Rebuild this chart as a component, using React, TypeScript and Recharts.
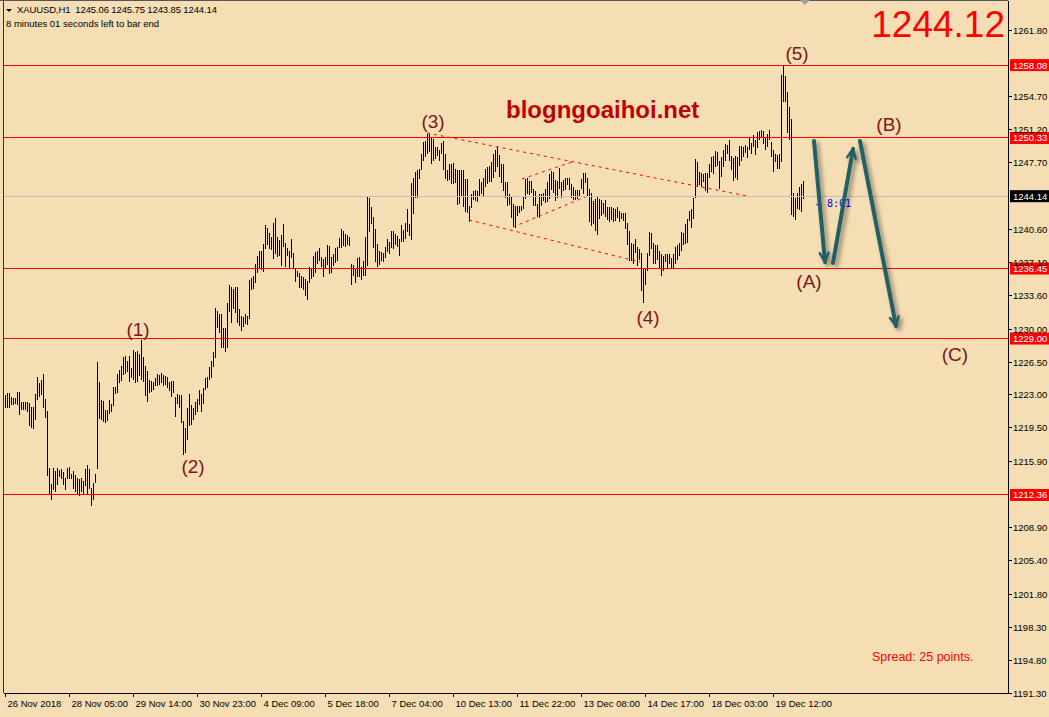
import { ComposedChart, Bar, XAxis, YAxis, ReferenceLine } from 'recharts'

// hourly highs / lows (XAUUSD H1, 26 Nov - 19 Dec 2018)
const highs = [
  1223.0, 1223.2, 1223.2, 1222.8, 1222.7, 1222.7, 1223.3, 1223.3, 1222.3, 1222.3,
  1222.2, 1222.3, 1222.1, 1221.7, 1221.7, 1223.1, 1224.9, 1224.3, 1224.6, 1225.2,
  1222.6, 1221.3, 1215.2, 1213.5, 1215.2, 1214.9, 1215.2, 1215.0, 1215.1, 1214.8,
  1214.2, 1215.2, 1215.3, 1214.6, 1214.9, 1214.5, 1214.2, 1214.1, 1214.2, 1213.8,
  1215.1, 1215.5, 1215.1, 1213.1, 1213.6, 1214.6, 1226.5, 1224.4, 1222.5, 1222.4,
  1221.4, 1221.4, 1222.5, 1222.0, 1223.8, 1223.8, 1225.2, 1225.7, 1226.1, 1227.0,
  1227.1, 1226.6, 1227.1, 1225.9, 1227.8, 1227.6, 1227.7, 1227.4, 1228.8, 1227.0,
  1226.1, 1225.6, 1224.6, 1224.5, 1224.4, 1224.8, 1225.2, 1225.1, 1225.3, 1225.1,
  1225.0, 1224.9, 1224.4, 1224.5, 1224.5, 1222.8, 1223.1, 1223.0, 1223.0, 1220.2,
  1219.5, 1221.6, 1223.1, 1221.9, 1221.6, 1222.3, 1222.6, 1223.5, 1223.1, 1223.7,
  1224.8, 1224.9, 1226.0, 1226.6, 1227.6, 1232.3, 1231.9, 1231.6, 1231.6, 1230.1,
  1230.1, 1232.8, 1234.7, 1234.5, 1234.3, 1234.5, 1234.5, 1232.1, 1231.4, 1231.3,
  1231.6, 1231.4, 1235.2, 1235.4, 1235.7, 1236.9, 1237.8, 1238.3, 1238.3, 1239.1,
  1241.1, 1240.8, 1240.2, 1239.8, 1241.3, 1241.8, 1239.8, 1239.5, 1240.0, 1241.2,
  1239.2, 1238.6, 1238.3, 1239.6, 1238.1, 1236.4, 1236.2, 1236.0, 1235.6, 1235.5,
  1235.3, 1235.1, 1236.6, 1236.4, 1237.8, 1238.2, 1238.3, 1238.6, 1237.7, 1237.5,
  1237.7, 1239.0, 1238.8, 1237.7, 1238.0, 1238.6, 1238.7, 1239.7, 1240.7, 1240.4,
  1240.1, 1240.0, 1239.8, 1236.9, 1236.8, 1236.5, 1237.6, 1237.7, 1236.6, 1237.2,
  1239.8, 1244.2, 1244.0, 1243.0, 1241.9, 1240.6, 1239.1, 1238.3, 1238.2, 1238.1,
  1238.7, 1239.6, 1239.3, 1240.4, 1240.4, 1240.1, 1239.9, 1239.6, 1241.1, 1240.5,
  1241.3, 1242.8, 1241.2, 1245.5, 1246.1, 1246.7, 1246.9, 1247.0, 1248.6, 1249.9,
  1250.0, 1250.8, 1250.8, 1250.3, 1250.2, 1249.4, 1249.4, 1249.0, 1249.8, 1250.0,
  1248.6, 1246.9, 1247.6, 1247.6, 1247.7, 1247.0, 1246.9, 1246.9, 1246.9, 1246.9,
  1246.0, 1246.0, 1243.1, 1244.4, 1244.7, 1244.8, 1244.7, 1246.0, 1245.7, 1246.1,
  1247.0, 1247.2, 1247.3, 1247.8, 1248.6, 1249.0, 1249.4, 1248.5, 1247.6, 1247.6,
  1245.6, 1245.6, 1244.4, 1244.2, 1243.3, 1243.1, 1243.1, 1243.1, 1243.1, 1244.2,
  1246.0, 1246.1, 1245.8, 1245.8, 1244.9, 1244.7, 1243.3, 1244.4, 1244.4, 1244.5,
  1244.9, 1245.6, 1246.5, 1246.8, 1246.7, 1245.9, 1245.8, 1247.1, 1245.7, 1245.9,
  1246.1, 1246.1, 1246.1, 1245.4, 1245.1, 1244.8, 1244.8, 1244.8, 1246.0, 1246.6,
  1246.6, 1246.1, 1244.9, 1244.5, 1243.6, 1243.8, 1244.1, 1243.8, 1243.7, 1243.4,
  1243.7, 1243.0, 1243.0, 1243.0, 1242.9, 1242.8, 1243.0, 1242.6, 1242.4, 1242.3,
  1242.3, 1241.3, 1240.4, 1239.2, 1239.1, 1239.6, 1238.7, 1238.5, 1238.1, 1236.5,
  1236.4, 1238.1, 1240.3, 1240.2, 1239.2, 1238.9, 1239.0, 1238.3, 1238.0, 1237.8,
  1238.0, 1238.0, 1238.0, 1237.6, 1238.0, 1238.7, 1239.0, 1239.2, 1240.3, 1240.2,
  1241.2, 1241.7, 1242.6, 1242.8, 1244.0, 1248.1, 1247.8, 1246.7, 1246.6, 1246.5,
  1246.6, 1246.6, 1247.6, 1248.3, 1248.4, 1248.9, 1248.8, 1247.9, 1248.3, 1249.0,
  1249.7, 1249.6, 1250.1, 1248.4, 1248.2, 1248.4, 1248.3, 1249.5, 1249.5, 1249.4,
  1249.6, 1249.4, 1250.4, 1249.8, 1250.6, 1250.1, 1251.0, 1251.1, 1251.2, 1251.1,
  1250.4, 1250.8, 1251.2, 1249.9, 1249.0, 1248.6, 1248.5, 1248.6, 1257.0, 1258.08,
  1256.9, 1255.2, 1253.6, 1252.4, 1244.5, 1243.9, 1244.5, 1245.1, 1245.4, 1245.75,
]

const lows = [
  1221.6, 1221.6, 1221.6, 1221.9, 1221.9, 1222.0, 1221.9, 1220.9, 1221.4, 1221.4,
  1221.4, 1221.2, 1219.7, 1219.5, 1219.4, 1220.3, 1222.5, 1222.8, 1223.0, 1221.6,
  1220.6, 1214.4, 1212.4, 1211.8, 1212.9, 1212.7, 1213.4, 1214.3, 1214.1, 1213.4,
  1212.9, 1214.1, 1214.1, 1214.1, 1213.0, 1212.7, 1212.4, 1212.3, 1212.7, 1212.5,
  1213.3, 1212.5, 1213.0, 1211.2, 1211.8, 1213.6, 1215.1, 1220.4, 1220.3, 1220.1,
  1220.0, 1220.2, 1221.0, 1221.2, 1221.8, 1223.1, 1223.2, 1224.3, 1224.5, 1225.1,
  1225.2, 1225.4, 1224.4, 1224.8, 1224.6, 1224.3, 1224.4, 1225.0, 1224.6, 1224.4,
  1222.9, 1222.2, 1223.2, 1223.3, 1223.5, 1223.9, 1224.0, 1224.1, 1224.3, 1224.0,
  1224.1, 1223.7, 1223.4, 1222.8, 1223.2, 1220.7, 1222.0, 1221.6, 1220.0, 1216.6,
  1216.8, 1218.2, 1219.7, 1219.8, 1220.3, 1220.9, 1221.2, 1221.9, 1221.2, 1222.0,
  1223.5, 1223.7, 1224.6, 1224.8, 1226.0, 1226.9, 1230.1, 1229.6, 1228.0, 1228.0,
  1227.6, 1228.0, 1231.8, 1230.6, 1232.1, 1231.7, 1230.6, 1230.3, 1229.8, 1230.2,
  1230.5, 1230.4, 1231.1, 1234.2, 1234.3, 1234.9, 1236.0, 1236.5, 1236.3, 1236.1,
  1238.5, 1239.0, 1238.5, 1238.4, 1237.5, 1238.0, 1237.7, 1237.8, 1236.7, 1238.7,
  1236.6, 1237.8, 1236.5, 1237.6, 1236.5, 1235.0, 1235.5, 1234.4, 1234.4, 1234.2,
  1233.5, 1233.1, 1234.9, 1235.3, 1235.5, 1236.0, 1236.9, 1237.2, 1236.6, 1235.5,
  1236.5, 1236.8, 1235.9, 1236.0, 1236.7, 1237.0, 1237.2, 1238.6, 1238.6, 1238.8,
  1238.7, 1238.9, 1238.8, 1234.7, 1235.7, 1234.9, 1235.5, 1235.5, 1235.2, 1235.6,
  1235.7, 1236.7, 1240.3, 1241.2, 1238.6, 1237.1, 1236.6, 1236.8, 1237.3, 1237.1,
  1237.6, 1238.2, 1238.0, 1238.6, 1238.5, 1239.0, 1238.7, 1237.8, 1239.3, 1239.3,
  1239.6, 1240.3, 1239.9, 1239.5, 1242.2, 1244.0, 1244.0, 1246.0, 1246.9, 1247.9,
  1248.3, 1248.6, 1248.8, 1247.6, 1247.9, 1248.1, 1248.4, 1247.9, 1248.6, 1246.9,
  1246.0, 1245.8, 1245.9, 1245.4, 1245.4, 1245.5, 1243.2, 1243.3, 1244.2, 1243.0,
  1242.5, 1242.4, 1241.4, 1242.9, 1243.7, 1243.6, 1243.5, 1244.1, 1244.4, 1244.2,
  1245.1, 1245.4, 1245.7, 1245.6, 1246.1, 1246.7, 1247.2, 1246.2, 1245.5, 1244.7,
  1244.0, 1243.1, 1243.2, 1241.8, 1241.0, 1240.8, 1242.0, 1242.4, 1242.6, 1242.8,
  1243.8, 1244.4, 1244.3, 1244.5, 1243.1, 1243.1, 1241.9, 1241.8, 1243.1, 1243.6,
  1243.4, 1243.5, 1243.8, 1244.8, 1244.5, 1243.6, 1244.0, 1244.9, 1244.0, 1244.7,
  1244.8, 1245.3, 1244.8, 1244.0, 1243.7, 1243.7, 1243.8, 1244.2, 1244.9, 1244.4,
  1245.5, 1244.1, 1241.4, 1241.0, 1241.2, 1240.4, 1240.0, 1241.7, 1242.0, 1242.2,
  1241.9, 1241.6, 1241.4, 1241.6, 1241.4, 1241.5, 1241.8, 1241.4, 1241.7, 1241.5,
  1240.6, 1239.0, 1237.3, 1237.3, 1236.9, 1238.1, 1236.7, 1237.4, 1234.1, 1232.8,
  1234.7, 1236.2, 1237.8, 1238.5, 1236.9, 1236.9, 1237.4, 1236.5, 1235.6, 1236.2,
  1237.1, 1236.5, 1236.9, 1236.4, 1236.4, 1236.9, 1237.4, 1237.8, 1238.3, 1239.0,
  1239.1, 1239.2, 1241.5, 1240.8, 1241.7, 1244.0, 1245.1, 1245.3, 1245.1, 1245.6,
  1244.7, 1244.5, 1246.1, 1246.7, 1246.5, 1247.2, 1247.4, 1244.9, 1246.2, 1247.2,
  1247.9, 1248.6, 1247.9, 1246.9, 1245.8, 1246.1, 1245.9, 1247.4, 1247.9, 1248.3,
  1248.7, 1248.2, 1249.0, 1248.6, 1249.4, 1248.5, 1249.3, 1250.1, 1250.4, 1249.7,
  1249.0, 1249.4, 1250.1, 1248.3, 1246.7, 1247.8, 1247.0, 1247.0, 1247.8, 1254.2,
  1254.2, 1250.9, 1250.1, 1242.1, 1241.9, 1241.6, 1242.8, 1242.7, 1242.5, 1243.85,
]

// bar numbers that carry a time label, and the labels themselves
const timeTicks = [1, 33, 65, 97, 129, 161, 193, 225, 257, 289, 321, 353, 385]
const timeLabels = [
  '26 Nov 2018', '28 Nov 05:00', '29 Nov 14:00', '30 Nov 23:00', '4 Dec 09:00',
  '5 Dec 18:00', '7 Dec 04:00', '10 Dec 13:00', '11 Dec 22:00', '13 Dec 08:00',
  '14 Dec 17:00', '18 Dec 03:00', '19 Dec 12:00',
]

const priceTicks = [
  1261.8, 1254.7, 1251.2, 1247.7, 1240.6, 1237.1, 1233.6, 1230.0, 1226.5,
  1223.0, 1219.5, 1215.9, 1208.9, 1205.4, 1201.8, 1198.3, 1194.8, 1191.3,
]

// horizontal levels drawn in red, plus the current bid
const levels = [1258.08, 1250.33, 1236.45, 1229.0, 1212.36]
const bid = 1244.14

// dotted wedge lines: [bar, price, bar, price]
const wedgeLines = [
  [211.75, 1250.86, 371.75, 1244.16],
  [232.75, 1241.61, 318.25, 1237.14],
  [259.25, 1245.97, 284.25, 1247.78],
  [254.75, 1240.86, 293.25, 1244.27],
]

const bars = highs.map((h, k) => ({ i: k + 1, high: h, low: lows[k] }))

const FONT = '"Liberation Sans", Arial, sans-serif'
const W = 1049
const H = 717

const PriceTick = (props: any) => {
  const { x, y, payload } = props
  return (
    <g>
      <line x1={x} x2={x + 4} y1={y} y2={y} stroke="#000" shapeRendering="crispEdges" />
      <text x={x + 5} y={y + 3.5} fontSize={9.5} fontFamily={FONT} fill="#000">
        {payload.value.toFixed(2)}
      </text>
    </g>
  )
}

const TimeTick = (props: any) => {
  const { x, y, payload } = props
  const label = timeLabels[timeTicks.indexOf(payload.value)]
  return (
    <g>
      <line x1={x} x2={x} y1={y} y2={y + 4} stroke="#000" shapeRendering="crispEdges" />
      <text x={x + 2} y={y + 14} fontSize={9.5} fontFamily={FONT} fill="#000">
        {label}
      </text>
    </g>
  )
}

const tag = (value: number, bg: string) => (props: any) => {
  const { x, y, width } = props.viewBox
  const left = x + width + 2
  return (
    <g>
      <rect x={left} y={y - 6} width={40} height={12} fill={bg} />
      <text x={left + 3} y={y + 3.5} fontSize={9.5} fontFamily={FONT} fill="#fff">
        {value.toFixed(2)}
      </text>
    </g>
  )
}

const waveLabels = [
  ['(1)', 138, 330], ['(2)', 193, 467], ['(3)', 433, 122], ['(4)', 648, 318],
  ['(5)', 797, 54], ['(A)', 809, 282], ['(B)', 889, 125], ['(C)', 955, 355],
] as const

const arrows = [
  [814, 141, 825, 262],
  [833, 263, 853, 149],
  [860, 141, 896, 326],
]

function Arrow({ a }: { a: number[] }) {
  const [x1, y1, x2, y2] = a
  const ang = Math.atan2(y2 - y1, x2 - x1)
  const len = 10
  const h1 = [x2 - len * Math.cos(ang - 0.45), y2 - len * Math.sin(ang - 0.45)]
  const h2 = [x2 - len * Math.cos(ang + 0.45), y2 - len * Math.sin(ang + 0.45)]
  return (
    <g stroke="#215e66" strokeWidth={4} strokeLinecap="round" fill="none" filter="url(#shadow)">
      <line x1={x1} y1={y1} x2={x2} y2={y2} />
      <polyline points={`${h1[0]},${h1[1]} ${x2},${y2} ${h2[0]},${h2[1]}`} strokeWidth={2.5} />
    </g>
  )
}

export default function App() {
  return (
    <div style={{ position: 'absolute', left: 0, top: 0, width: W, height: H, background: '#f5deb3' }}>
      <ComposedChart width={W} height={H} data={bars} margin={{ top: 1, right: 0, bottom: 0, left: 4 }}>
        <XAxis
          type="number"
          dataKey="i"
          domain={[0.25, 502.25]}
          allowDataOverflow
          ticks={timeTicks}
          interval={0}
          tick={<TimeTick />}
          tickLine={false}
          tickSize={0}
          tickMargin={0}
          height={24}
          axisLine={{ stroke: '#000', shapeRendering: 'crispEdges' }}
        />
        <YAxis
          orientation="right"
          type="number"
          domain={[1191.3, 1264.9]}
          allowDataOverflow
          ticks={priceTicks}
          interval={0}
          tick={<PriceTick />}
          tickLine={false}
          tickSize={0}
          tickMargin={0}
          width={41}
          axisLine={{ stroke: '#000', shapeRendering: 'crispEdges' }}
        />
        {wedgeLines.map((w, k) => (
          <ReferenceLine
            key={'w' + k}
            segment={[{ x: w[0], y: w[1] }, { x: w[2], y: w[3] }]}
            stroke="#ff0000"
            strokeDasharray="3 4"
          />
        ))}
        <ReferenceLine y={bid} stroke="#c0c0c0" shapeRendering="crispEdges" label={tag(bid, '#000')} />
        {levels.map((v) => (
          <ReferenceLine key={v} y={v} stroke="#ff0000" shapeRendering="crispEdges" label={tag(v, '#ff0000')} />
        ))}
        <Bar
          dataKey={(d: any) => [d.low, d.high]}
          fill="#000"
          barSize={1}
          shapeRendering="crispEdges"
          isAnimationActive={false}
        />
      </ComposedChart>

      <svg width={W} height={H} style={{ position: 'absolute', left: 0, top: 0, pointerEvents: 'none' }}>
        <defs>
          <filter id="shadow" x="-50%" y="-50%" width="200%" height="200%">
            <feDropShadow dx={3} dy={3} stdDeviation={2} floodColor="#000" floodOpacity={0.4} />
          </filter>
        </defs>
        <line x1={3.5} y1={0} x2={3.5} y2={693} stroke="#333" />
        <line x1={0} y1={0.5} x2={1008} y2={0.5} stroke="#555" />
        <polygon points="800,0 810,0 805,5" fill="#a0a0a0" />

        <polygon points="6,9 12,9 9,12" fill="#000" />
        <text x={17} y={13} fontSize={9.5} fontFamily={FONT} fill="#000" xmlSpace="preserve"
          textLength={200} lengthAdjust="spacing">
          XAUUSD,H1  1245.06 1245.75 1243.85 1244.14
        </text>
        <text x={6} y={27} fontSize={9.5} fontFamily={FONT} fill="#000">
          8 minutes 01 seconds left to bar end
        </text>

        <text x={1005} y={37} fontSize={37} fontFamily={FONT} fill="#ff0000" textAnchor="end">
          1244.12
        </text>
        <text x={506} y={118} fontSize={24} fontWeight="bold" fontFamily={FONT} fill="#c00000">
          blogngoaihoi.net
        </text>
        <text x={872} y={661} fontSize={12.5} fontFamily={FONT} fill="#ff0000">
          Spread: 25 points.
        </text>

        {waveLabels.map(([t, x, y]) => (
          <text key={t} x={x} y={y + 6} fontSize={19} fontFamily={FONT} fill="#7d1717" textAnchor="middle">
            {t}
          </text>
        ))}

        <text x={814} y={206} fontSize={9} fontFamily={FONT} fill="#0000ff">←</text>
        <text x={827} y={207} fontSize={10} fontFamily='"DejaVu Sans Mono", monospace' fill="#0000ff">
          8:01
        </text>

        {arrows.map((a, k) => (
          <Arrow key={k} a={a} />
        ))}
      </svg>
    </div>
  )
}
